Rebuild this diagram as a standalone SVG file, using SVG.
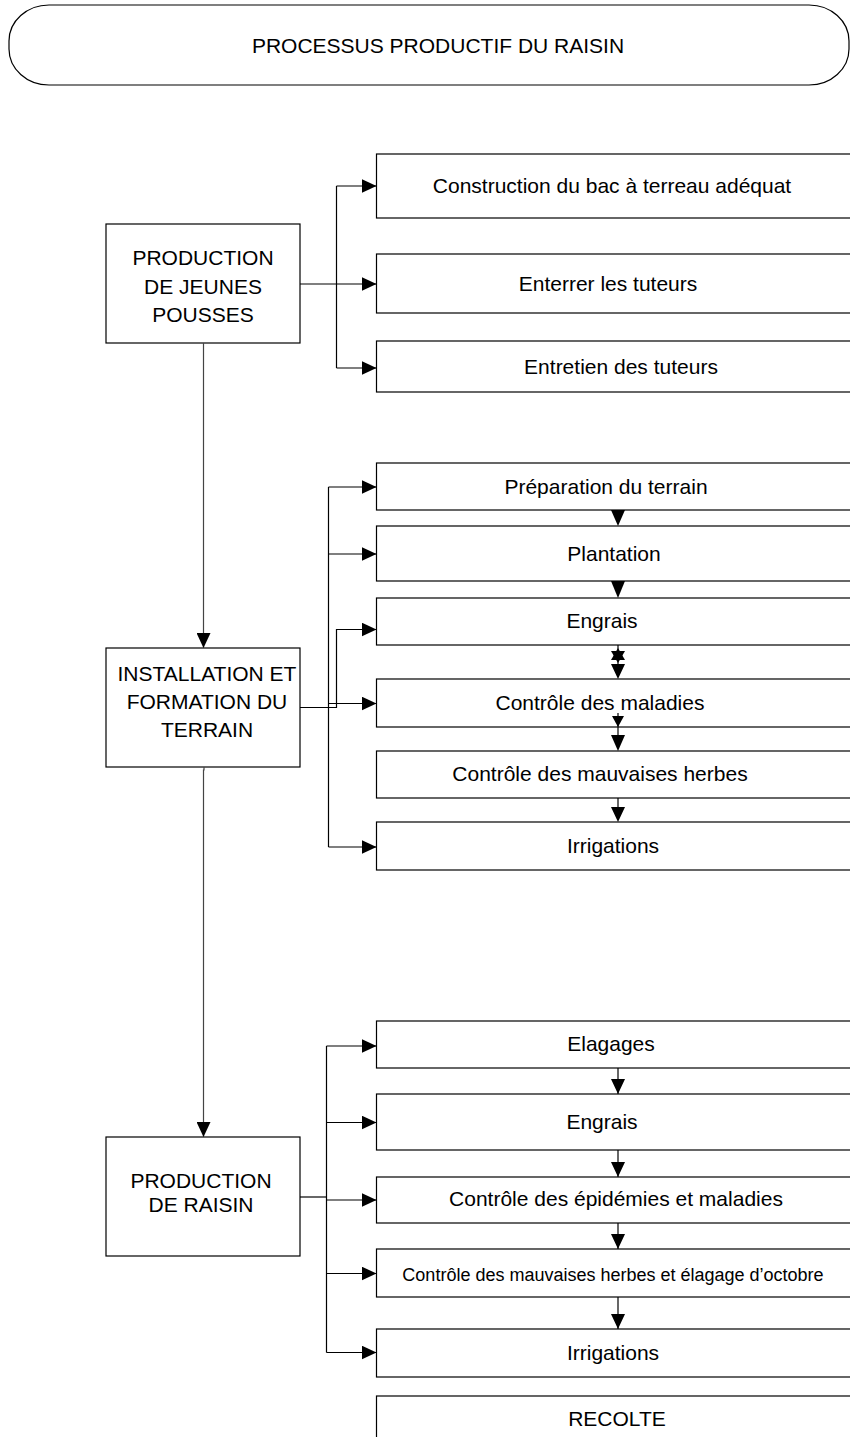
<svg xmlns="http://www.w3.org/2000/svg" width="850" height="1437" viewBox="0 0 850 1437">
<defs>
<style>
.box{fill:#fff;stroke:#000;stroke-width:1.2}
.t{font-family:"Liberation Sans",Arial,sans-serif;font-size:21px;fill:#000;text-anchor:middle}
.s{font-size:18px}
.ln{fill:none;stroke:#000;stroke-width:1.2}
.gl{fill:none;stroke:#444;stroke-width:1.2}
.ah{fill:#000;stroke:none}
</style>
<marker id="arr" markerUnits="userSpaceOnUse" markerWidth="15" markerHeight="14" refX="15" refY="7" orient="auto" viewBox="0 0 15 14">
<path d="M0,0 L15,7 L0,14 z" fill="#000"/>
</marker>
</defs>
<rect width="850" height="1437" fill="#fff"/>

<g id="title">
<rect class="box" x="9" y="5" width="840" height="80" rx="40" ry="36"/>
<text class="t" x="438" y="53">PROCESSUS PRODUCTIF DU RAISIN</text>
</g>

<g id="n-jeunes">
<rect class="box" x="106" y="224" width="194" height="119"/>
<text class="t" x="203" y="265">PRODUCTION</text>
<text class="t" x="203" y="294">DE JEUNES</text>
<text class="t" x="203" y="322">POUSSES</text>
</g>
<g id="n-construction">
<rect class="box" x="376.5" y="154" width="490" height="64"/>
<text class="t" x="612" y="193">Construction du bac à terreau adéquat</text>
</g>
<g id="n-enterrer">
<rect class="box" x="376.5" y="254" width="490" height="59"/>
<text class="t" x="608" y="291">Enterrer les tuteurs</text>
</g>
<g id="n-entretien">
<rect class="box" x="376.5" y="341" width="490" height="51"/>
<text class="t" x="621" y="374">Entretien des tuteurs</text>
</g>

<g id="n-installation">
<rect class="box" x="106" y="648" width="194" height="119"/>
<text class="t" x="207" y="681">INSTALLATION ET</text>
<text class="t" x="207" y="709">FORMATION DU</text>
<text class="t" x="207" y="737">TERRAIN</text>
</g>
<g id="n-preparation">
<rect class="box" x="376.5" y="463" width="490" height="47"/>
<text class="t" x="606" y="494">Préparation du terrain</text>
</g>
<g id="n-plantation">
<rect class="box" x="376.5" y="526" width="490" height="55"/>
<text class="t" x="614" y="561">Plantation</text>
</g>
<g id="n-engrais1">
<rect class="box" x="376.5" y="598" width="490" height="47"/>
<text class="t" x="602" y="628">Engrais</text>
</g>
<g id="n-maladies">
<rect class="box" x="376.5" y="679" width="490" height="48"/>
<text class="t" x="600" y="710">Contrôle des maladies</text>
</g>
<g id="n-mauvaises">
<rect class="box" x="376.5" y="751" width="490" height="47"/>
<text class="t" x="600" y="781">Contrôle des mauvaises herbes</text>
</g>
<g id="n-irrigations1">
<rect class="box" x="376.5" y="822" width="490" height="48"/>
<text class="t" x="613" y="853">Irrigations</text>
</g>

<g id="n-raisin">
<rect class="box" x="106" y="1137" width="194" height="119"/>
<text class="t" x="201" y="1188">PRODUCTION</text>
<text class="t" x="201" y="1212">DE RAISIN</text>
</g>
<g id="n-elagages">
<rect class="box" x="376.5" y="1021" width="490" height="47"/>
<text class="t" x="611" y="1051">Elagages</text>
</g>
<g id="n-engrais2">
<rect class="box" x="376.5" y="1094" width="490" height="56"/>
<text class="t" x="602" y="1129">Engrais</text>
</g>
<g id="n-epidemies">
<rect class="box" x="376.5" y="1177" width="490" height="46"/>
<text class="t" x="616" y="1206">Contrôle des épidémies et maladies</text>
</g>
<g id="n-octobre">
<rect class="box" x="376.5" y="1249" width="490" height="48"/>
<text class="t s" x="613" y="1281">Contrôle des mauvaises herbes et élagage d’octobre</text>
</g>
<g id="n-irrigations2">
<rect class="box" x="376.5" y="1329" width="490" height="48"/>
<text class="t" x="613" y="1360">Irrigations</text>
</g>
<g id="n-recolte">
<rect class="box" x="376.5" y="1396" width="490" height="60"/>
<text class="t" x="617" y="1426">RECOLTE</text>
</g>

<g id="connectors">
<path class="ln" d="M300,284 H376.5" marker-end="url(#arr)"/>
<path class="ln" d="M336.5,186 V368"/>
<path class="ln" d="M336.5,186 H376.5" marker-end="url(#arr)"/>
<path class="ln" d="M336.5,368 H376.5" marker-end="url(#arr)"/>
<path class="gl" d="M203.5,343 V648" marker-end="url(#arr)"/>
<path class="gl" d="M204,767 V770 H203.5 V1137" marker-end="url(#arr)"/>
<path class="ln" d="M328.5,487 V847"/>
<path class="ln" d="M328.5,487 H376.5" marker-end="url(#arr)"/>
<path class="ln" d="M328.5,554 H376.5" marker-end="url(#arr)"/>
<path class="ln" d="M328.5,703.5 H376.5" marker-end="url(#arr)"/>
<path class="ln" d="M328.5,847 H376.5" marker-end="url(#arr)"/>
<path class="ln" d="M300,707.5 H336.5 V629.5 H376.5" marker-end="url(#arr)"/>
<path class="ah" d="M611,510 H625 L618,526 z"/>
<path class="ah" d="M611,581 H625 L618,598 z"/>
<path class="ln" d="M618,645 V664"/>
<path class="ah" d="M611,651 H625 L618,663 z"/>
<path class="ah" d="M611,660 H625 L618,648 z"/>
<path class="ah" d="M611,664 H625 L618,679 z"/>
<path class="ln" d="M618,713 V735"/>
<path class="ah" d="M612,716 H624 L618,727 z"/>
<path class="ah" d="M611,735 H625 L618,751 z"/>
<path class="ln" d="M618,798 V807"/>
<path class="ah" d="M611,807 H625 L618,822 z"/>
<path class="ln" d="M300,1197 H326.5"/>
<path class="ln" d="M326.5,1046 V1352.5"/>
<path class="ln" d="M326.5,1046 H376.5" marker-end="url(#arr)"/>
<path class="ln" d="M326.5,1122.5 H376.5" marker-end="url(#arr)"/>
<path class="ln" d="M326.5,1200 H376.5" marker-end="url(#arr)"/>
<path class="ln" d="M326.5,1273.5 H376.5" marker-end="url(#arr)"/>
<path class="ln" d="M326.5,1352.5 H376.5" marker-end="url(#arr)"/>
<path class="ln" d="M618,1068 V1094" marker-end="url(#arr)"/>
<path class="ln" d="M618,1150 V1177" marker-end="url(#arr)"/>
<path class="ln" d="M618,1223 V1249" marker-end="url(#arr)"/>
<path class="ln" d="M618,1297 V1329" marker-end="url(#arr)"/>
</g>
</svg>
